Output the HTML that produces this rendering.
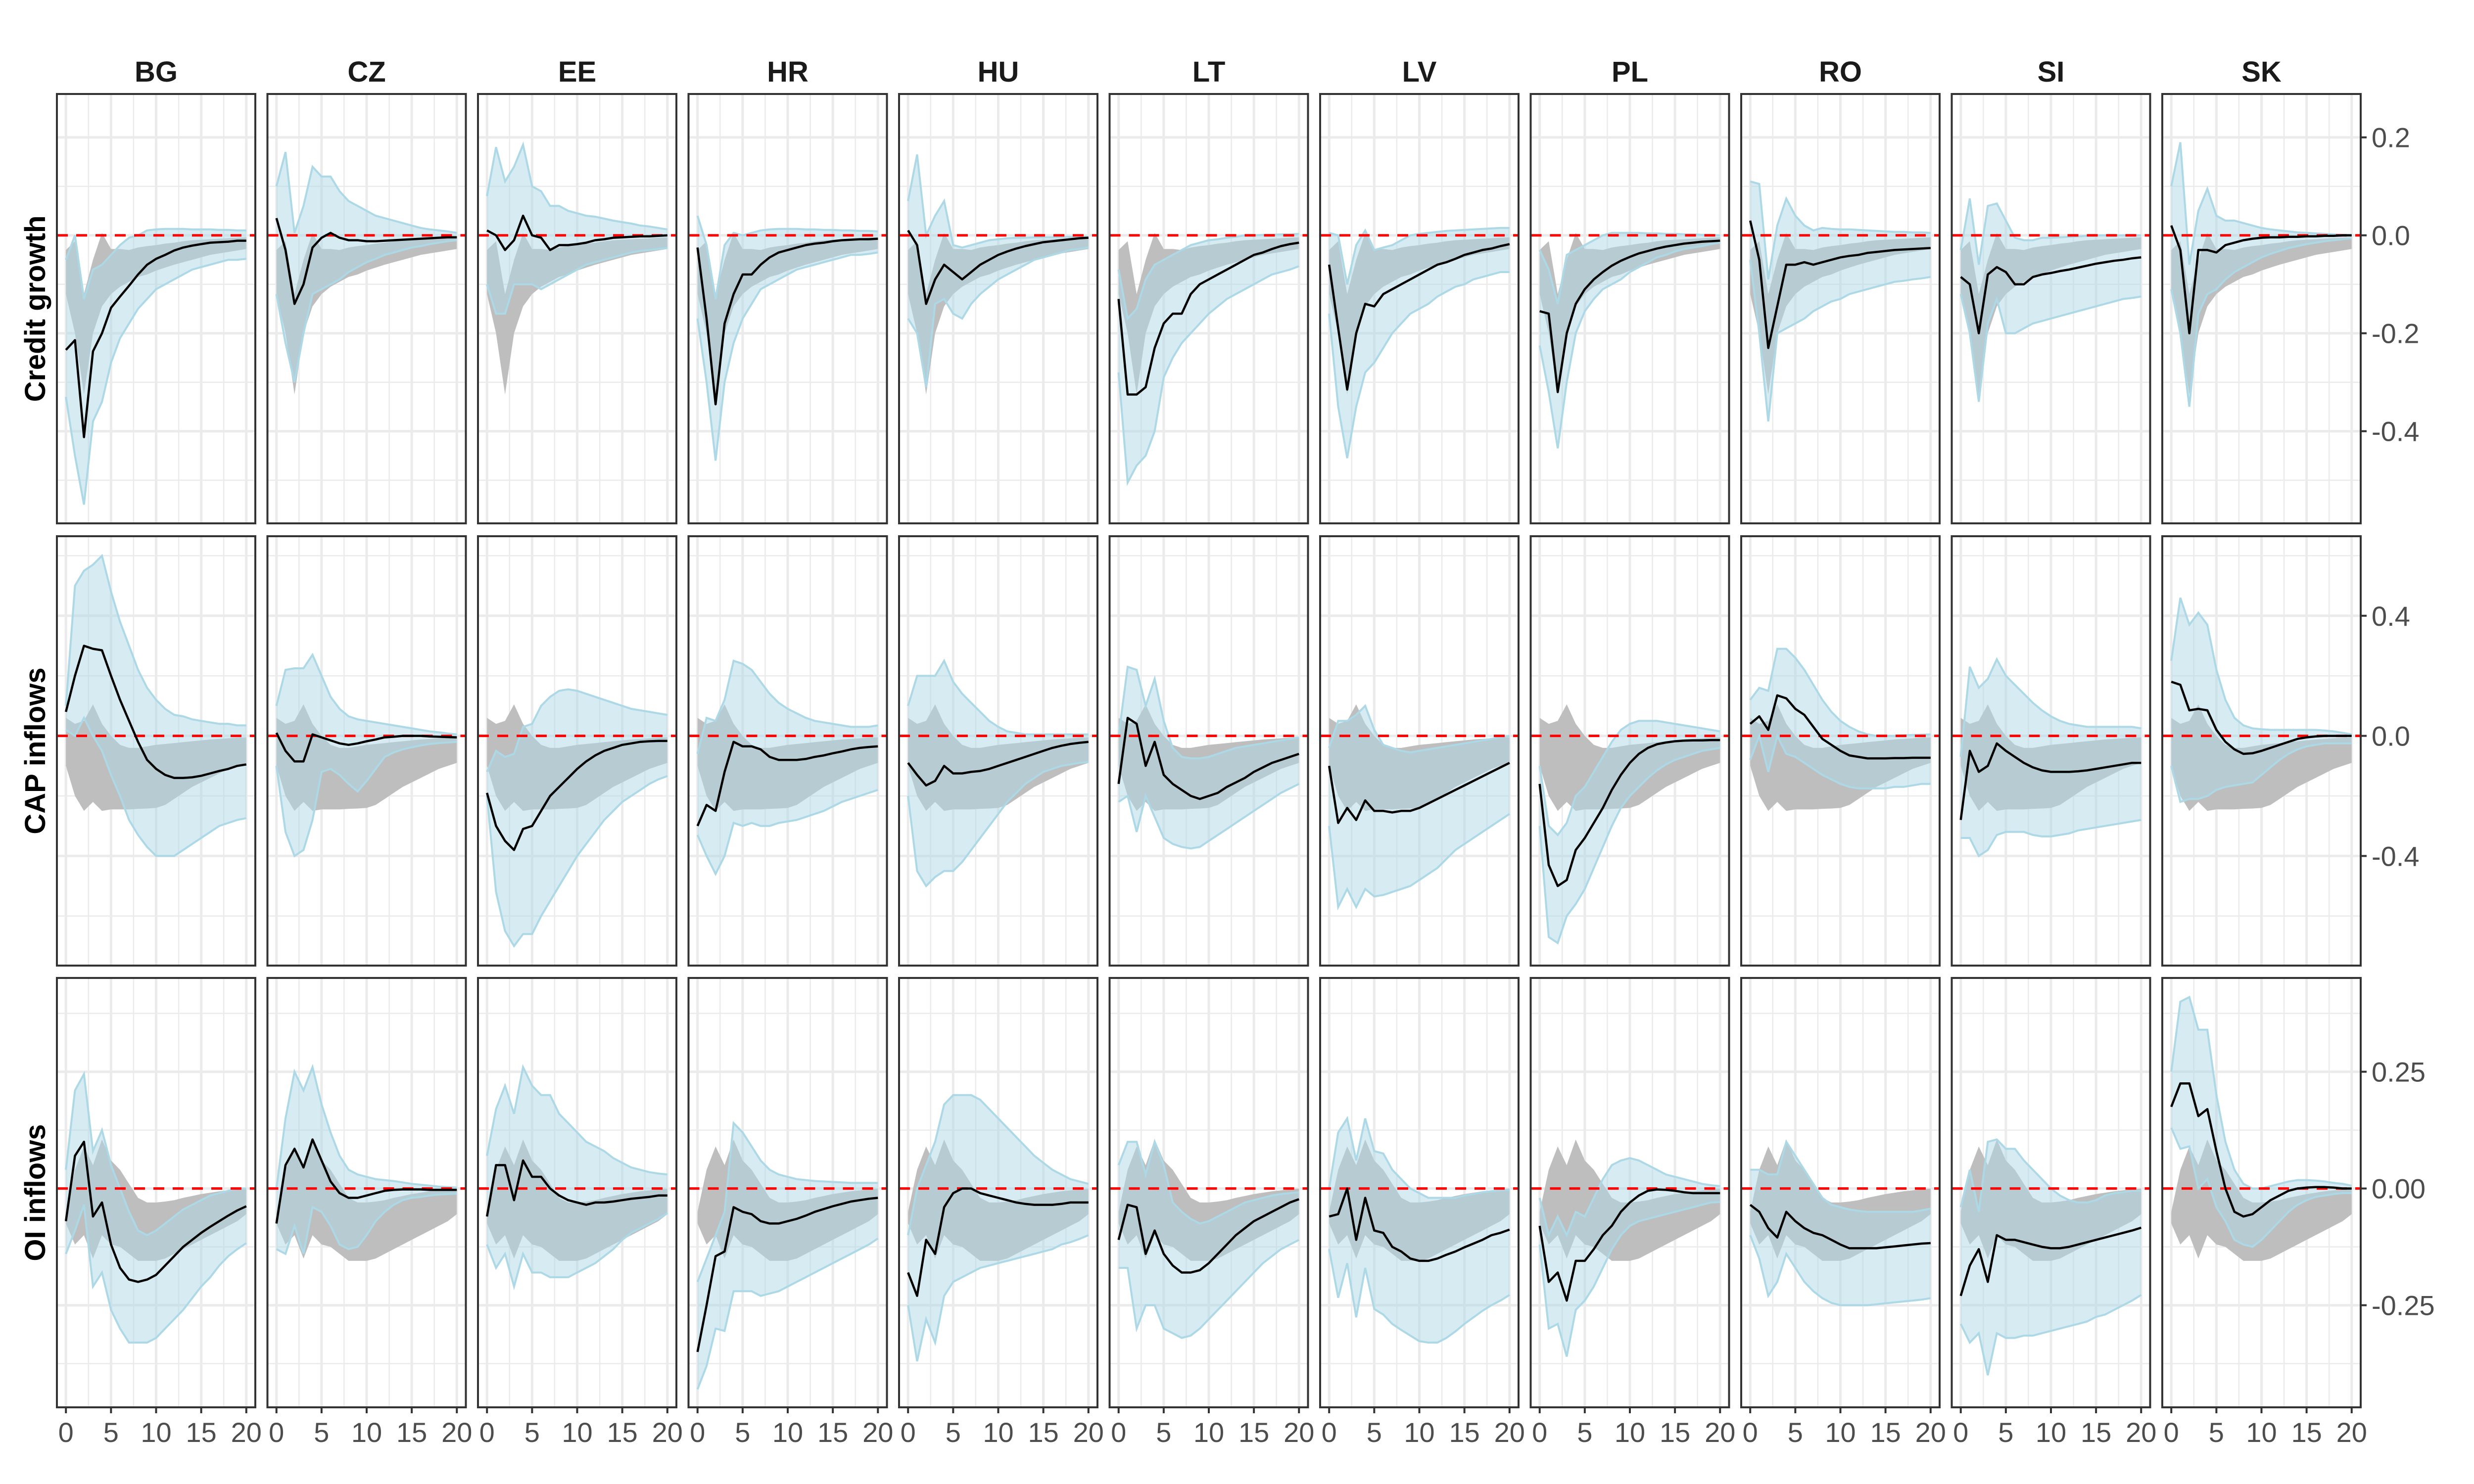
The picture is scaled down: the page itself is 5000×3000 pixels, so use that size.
<!DOCTYPE html>
<html><head><meta charset="utf-8">
<style>
html,body{margin:0;padding:0;background:#fff;}
svg{display:block;font-family:"Liberation Sans",Arial,sans-serif;}
</style></head>
<body>
<svg id="chart" width="5000" height="3000" viewBox="0 0 5000 3000" xmlns="http://www.w3.org/2000/svg">
<rect width="5000" height="3000" fill="#ffffff"/>
</svg>
<script>
// ---------------- data ----------------
const countries = ["BG","CZ","EE","HR","HU","LT","LV","PL","RO","SI","SK"];
const horizons = [0,1,2,3,4,5,6,7,8,9,10,11,12,13,14,15,16,17,18,19,20];
const rowTitles = ["Credit growth","CAP inflows","OI inflows"];
const xTicks = [0,5,10,15,20];
const yTicksCredit = [0.2,0.0,-0.2,-0.4];
const yTickLabelsCredit = ["0.2","0.0","-0.2","-0.4"];
const yMinorCredit = [0.1,-0.1,-0.3,-0.5];
const yTicksCap = [0.4,0.0,-0.4];
const yTickLabelsCap = ["0.4","0.0","-0.4"];
const yMinorCap = [0.6,0.2,-0.2,-0.6];
const yTicksOi = [0.25,0.0,-0.25];
const yTickLabelsOi = ["0.25","0.00","-0.25"];
const yMinorOi = [0.375,0.125,-0.125,-0.375];

// benchmark (grey) bands, one per row
const creditGreyLo = [-0.12,-0.2,-0.325,-0.2,-0.145,-0.12,-0.105,-0.095,-0.085,-0.08,-0.072,-0.066,-0.06,-0.055,-0.05,-0.045,-0.04,-0.037,-0.034,-0.031,-0.028];
const creditGreyHi = [-0.03,-0.012,-0.12,-0.05,0.005,-0.028,-0.028,-0.03,-0.025,-0.022,-0.02,-0.017,-0.015,-0.012,-0.01,-0.009,-0.008,-0.007,-0.006,-0.005,-0.004];
const capGreyLo = [-0.1,-0.2,-0.25,-0.22,-0.25,-0.245,-0.245,-0.245,-0.243,-0.242,-0.24,-0.23,-0.21,-0.19,-0.17,-0.155,-0.14,-0.125,-0.11,-0.1,-0.09];
const capGreyHi = [0.06,0.04,0.05,0.105,0.04,0.0,-0.03,-0.04,-0.04,-0.035,-0.03,-0.027,-0.024,-0.021,-0.018,-0.015,-0.012,-0.01,-0.008,-0.006,-0.005];
const oiGreyLo = [-0.075,-0.12,-0.1,-0.15,-0.1,-0.12,-0.125,-0.14,-0.155,-0.155,-0.155,-0.15,-0.14,-0.13,-0.12,-0.11,-0.1,-0.09,-0.08,-0.07,-0.055];
const oiGreyHi = [-0.05,0.04,0.09,0.05,0.105,0.06,0.04,0.01,-0.02,-0.03,-0.03,-0.028,-0.025,-0.02,-0.016,-0.012,-0.009,-0.006,-0.004,-0.002,0.0];

// Credit growth: median, upper, lower per country
const creditMed = [
[-0.234,-0.214,-0.412,-0.237,-0.2,-0.148,-0.125,-0.103,-0.08,-0.06,-0.048,-0.04,-0.031,-0.025,-0.021,-0.018,-0.015,-0.014,-0.013,-0.011,-0.011],
[0.035,-0.03,-0.14,-0.1,-0.025,-0.005,0.005,-0.005,-0.01,-0.01,-0.012,-0.012,-0.011,-0.01,-0.009,-0.008,-0.007,-0.006,-0.005,-0.004,-0.004],
[0.01,0.0,-0.03,-0.01,0.04,0.0,-0.005,-0.03,-0.02,-0.02,-0.018,-0.015,-0.01,-0.008,-0.005,-0.004,-0.003,-0.002,-0.002,-0.001,0.0],
[-0.025,-0.17,-0.345,-0.18,-0.12,-0.08,-0.08,-0.06,-0.045,-0.035,-0.03,-0.025,-0.02,-0.017,-0.015,-0.012,-0.01,-0.009,-0.008,-0.008,-0.007],
[0.01,-0.02,-0.14,-0.09,-0.06,-0.075,-0.09,-0.075,-0.06,-0.05,-0.04,-0.033,-0.027,-0.022,-0.018,-0.014,-0.012,-0.01,-0.008,-0.006,-0.005],
[-0.13,-0.325,-0.325,-0.31,-0.23,-0.18,-0.16,-0.16,-0.12,-0.1,-0.09,-0.08,-0.07,-0.06,-0.05,-0.04,-0.035,-0.028,-0.022,-0.018,-0.015],
[-0.06,-0.19,-0.315,-0.2,-0.14,-0.145,-0.12,-0.11,-0.1,-0.09,-0.08,-0.07,-0.06,-0.055,-0.048,-0.04,-0.035,-0.03,-0.027,-0.022,-0.018],
[-0.155,-0.16,-0.32,-0.2,-0.14,-0.11,-0.09,-0.075,-0.062,-0.052,-0.044,-0.037,-0.032,-0.027,-0.023,-0.02,-0.017,-0.015,-0.013,-0.012,-0.011],
[0.03,-0.05,-0.23,-0.145,-0.06,-0.06,-0.055,-0.06,-0.055,-0.05,-0.045,-0.042,-0.04,-0.036,-0.034,-0.032,-0.03,-0.029,-0.028,-0.027,-0.026],
[-0.085,-0.1,-0.2,-0.08,-0.065,-0.075,-0.1,-0.1,-0.085,-0.08,-0.077,-0.073,-0.07,-0.066,-0.062,-0.058,-0.055,-0.052,-0.05,-0.047,-0.045],
[0.02,-0.03,-0.2,-0.03,-0.03,-0.035,-0.02,-0.015,-0.01,-0.007,-0.005,-0.004,-0.004,-0.003,-0.003,-0.002,-0.002,-0.001,-0.001,0.0,0.0]];
const creditHi = [
[-0.05,0.0,-0.13,-0.07,-0.06,-0.04,-0.02,-0.005,0.0,0.01,0.012,0.013,0.013,0.013,0.012,0.012,0.012,0.011,0.011,0.01,0.01],
[0.1,0.17,0.005,0.06,0.14,0.12,0.12,0.09,0.07,0.06,0.05,0.04,0.035,0.03,0.025,0.02,0.015,0.012,0.01,0.008,0.005],
[0.08,0.18,0.11,0.14,0.185,0.1,0.09,0.06,0.06,0.05,0.045,0.04,0.038,0.034,0.03,0.027,0.024,0.02,0.018,0.015,0.012],
[0.04,-0.02,-0.13,-0.02,0.005,0.0,0.005,0.01,0.012,0.013,0.013,0.013,0.012,0.012,0.011,0.011,0.01,0.01,0.009,0.009,0.008],
[0.07,0.165,0.0,0.04,0.07,-0.02,-0.025,-0.02,-0.015,-0.01,-0.008,-0.006,-0.005,-0.005,-0.004,-0.004,-0.004,-0.003,-0.003,-0.003,-0.003],
[-0.07,-0.17,-0.15,-0.09,-0.06,-0.05,-0.04,-0.03,-0.02,-0.015,-0.01,-0.008,-0.005,-0.003,0.0,0.0,0.001,0.001,0.002,0.002,0.003],
[0.005,0.0,-0.1,-0.02,0.01,-0.03,-0.025,-0.02,-0.01,0.0,0.003,0.005,0.007,0.009,0.01,0.011,0.012,0.013,0.014,0.015,0.015],
[-0.03,-0.07,-0.14,-0.04,-0.03,-0.02,-0.01,0.0,0.005,0.005,0.005,0.005,0.004,0.004,0.003,0.003,0.002,0.002,0.001,0.001,0.0],
[0.11,0.105,-0.09,0.02,0.075,0.04,0.02,0.01,0.015,0.013,0.012,0.012,0.011,0.01,0.009,0.008,0.007,0.007,0.006,0.006,0.005],
[-0.03,0.075,-0.06,0.06,0.065,0.03,-0.005,-0.01,-0.01,-0.005,-0.005,-0.004,-0.003,-0.002,-0.001,0.0,0.0,0.0,0.0,0.0,0.0],
[0.1,0.19,-0.06,0.05,0.095,0.04,0.03,0.03,0.025,0.02,0.015,0.012,0.01,0.008,0.006,0.005,0.004,0.003,0.002,0.001,0.001]];
const creditLo = [
[-0.33,-0.45,-0.55,-0.38,-0.34,-0.26,-0.21,-0.18,-0.15,-0.13,-0.11,-0.1,-0.09,-0.08,-0.07,-0.065,-0.06,-0.055,-0.05,-0.05,-0.048],
[-0.12,-0.22,-0.3,-0.2,-0.12,-0.11,-0.1,-0.09,-0.075,-0.065,-0.055,-0.048,-0.04,-0.035,-0.03,-0.025,-0.022,-0.018,-0.015,-0.012,-0.01],
[-0.1,-0.16,-0.16,-0.1,-0.1,-0.1,-0.11,-0.1,-0.09,-0.08,-0.07,-0.06,-0.055,-0.05,-0.045,-0.04,-0.035,-0.032,-0.03,-0.028,-0.026],
[-0.17,-0.3,-0.46,-0.3,-0.22,-0.17,-0.14,-0.11,-0.1,-0.09,-0.08,-0.07,-0.065,-0.06,-0.055,-0.05,-0.045,-0.04,-0.04,-0.038,-0.035],
[-0.17,-0.2,-0.31,-0.14,-0.13,-0.16,-0.17,-0.14,-0.12,-0.105,-0.09,-0.08,-0.07,-0.06,-0.05,-0.045,-0.04,-0.035,-0.03,-0.028,-0.025],
[-0.28,-0.505,-0.47,-0.45,-0.4,-0.29,-0.25,-0.22,-0.2,-0.18,-0.16,-0.145,-0.13,-0.12,-0.11,-0.1,-0.09,-0.08,-0.075,-0.07,-0.063],
[-0.16,-0.35,-0.455,-0.35,-0.28,-0.26,-0.23,-0.2,-0.18,-0.16,-0.15,-0.14,-0.125,-0.115,-0.105,-0.1,-0.09,-0.085,-0.08,-0.075,-0.075],
[-0.225,-0.32,-0.435,-0.3,-0.2,-0.155,-0.13,-0.11,-0.1,-0.09,-0.075,-0.065,-0.055,-0.045,-0.04,-0.033,-0.028,-0.025,-0.022,-0.018,-0.015],
[-0.05,-0.2,-0.38,-0.2,-0.19,-0.18,-0.17,-0.155,-0.145,-0.135,-0.13,-0.12,-0.115,-0.11,-0.105,-0.1,-0.095,-0.093,-0.09,-0.088,-0.085],
[-0.12,-0.2,-0.34,-0.18,-0.13,-0.2,-0.2,-0.19,-0.18,-0.175,-0.17,-0.165,-0.16,-0.155,-0.15,-0.145,-0.14,-0.135,-0.13,-0.128,-0.125],
[-0.11,-0.2,-0.35,-0.16,-0.12,-0.11,-0.09,-0.075,-0.065,-0.055,-0.045,-0.038,-0.032,-0.026,-0.022,-0.018,-0.015,-0.012,-0.01,-0.008,-0.006]];

// CAP inflows
const capMed = [
[0.08,0.2,0.3,0.29,0.285,0.2,0.12,0.05,-0.02,-0.08,-0.11,-0.13,-0.14,-0.14,-0.138,-0.133,-0.125,-0.117,-0.11,-0.1,-0.095],
[0.01,-0.05,-0.085,-0.085,0.005,-0.005,-0.015,-0.025,-0.03,-0.025,-0.018,-0.012,-0.005,-0.003,0.0,0.0,0.0,-0.002,-0.003,-0.004,-0.005],
[-0.19,-0.3,-0.35,-0.38,-0.31,-0.3,-0.25,-0.2,-0.17,-0.14,-0.11,-0.085,-0.065,-0.05,-0.04,-0.03,-0.025,-0.02,-0.018,-0.017,-0.017],
[-0.3,-0.23,-0.25,-0.12,-0.02,-0.035,-0.035,-0.045,-0.07,-0.08,-0.08,-0.08,-0.077,-0.07,-0.065,-0.058,-0.052,-0.045,-0.04,-0.037,-0.035],
[-0.09,-0.13,-0.165,-0.15,-0.1,-0.125,-0.125,-0.12,-0.117,-0.11,-0.1,-0.09,-0.08,-0.07,-0.06,-0.05,-0.04,-0.033,-0.027,-0.023,-0.02],
[-0.16,0.06,0.04,-0.1,-0.02,-0.13,-0.16,-0.18,-0.2,-0.21,-0.2,-0.19,-0.17,-0.155,-0.14,-0.12,-0.105,-0.09,-0.08,-0.07,-0.06],
[-0.1,-0.29,-0.24,-0.28,-0.215,-0.25,-0.25,-0.255,-0.25,-0.25,-0.24,-0.225,-0.21,-0.195,-0.18,-0.165,-0.15,-0.135,-0.12,-0.105,-0.09],
[-0.16,-0.43,-0.5,-0.48,-0.38,-0.34,-0.29,-0.24,-0.18,-0.13,-0.09,-0.06,-0.04,-0.028,-0.022,-0.018,-0.016,-0.015,-0.015,-0.014,-0.014],
[0.04,0.065,0.02,0.135,0.125,0.09,0.07,0.03,-0.01,-0.03,-0.05,-0.065,-0.07,-0.075,-0.075,-0.075,-0.074,-0.074,-0.073,-0.073,-0.073],
[-0.28,-0.05,-0.12,-0.1,-0.025,-0.05,-0.07,-0.09,-0.105,-0.115,-0.12,-0.12,-0.12,-0.118,-0.115,-0.11,-0.105,-0.1,-0.095,-0.09,-0.09],
[0.18,0.17,0.085,0.09,0.085,0.02,-0.02,-0.045,-0.06,-0.058,-0.05,-0.04,-0.03,-0.02,-0.01,-0.005,-0.002,0.0,0.0,0.0,0.0]];
const capHi = [
[0.1,0.5,0.55,0.57,0.6,0.48,0.38,0.3,0.22,0.16,0.12,0.09,0.07,0.065,0.055,0.05,0.045,0.04,0.04,0.035,0.035],
[0.1,0.22,0.225,0.225,0.27,0.2,0.13,0.09,0.065,0.055,0.05,0.045,0.04,0.035,0.03,0.025,0.02,0.015,0.012,0.008,0.005],
[-0.12,-0.05,-0.07,-0.06,0.03,0.04,0.1,0.13,0.15,0.155,0.15,0.14,0.13,0.12,0.11,0.1,0.09,0.085,0.08,0.075,0.07],
[-0.06,0.06,0.05,0.12,0.25,0.24,0.22,0.18,0.14,0.11,0.09,0.075,0.06,0.05,0.045,0.04,0.035,0.03,0.03,0.03,0.035],
[0.1,0.2,0.2,0.2,0.25,0.18,0.14,0.11,0.08,0.05,0.03,0.015,0.01,0.005,0.005,0.005,0.005,0.005,0.005,0.005,0.005],
[0.0,0.23,0.22,0.1,0.19,0.05,-0.04,-0.07,-0.075,-0.075,-0.07,-0.06,-0.05,-0.04,-0.035,-0.03,-0.025,-0.02,-0.015,-0.01,-0.005],
[-0.04,0.05,0.05,0.07,0.1,0.02,-0.03,-0.04,-0.05,-0.055,-0.05,-0.045,-0.04,-0.035,-0.03,-0.025,-0.02,-0.015,-0.01,-0.005,0.0],
[-0.1,-0.3,-0.33,-0.29,-0.2,-0.17,-0.12,-0.07,-0.02,0.02,0.04,0.05,0.05,0.05,0.045,0.04,0.035,0.03,0.025,0.02,0.015],
[0.12,0.16,0.15,0.29,0.29,0.26,0.22,0.17,0.12,0.08,0.05,0.03,0.015,0.005,0.0,0.0,0.0,0.002,0.003,0.004,0.005],
[-0.07,0.23,0.16,0.19,0.255,0.2,0.17,0.14,0.11,0.085,0.065,0.05,0.04,0.035,0.03,0.03,0.03,0.03,0.03,0.03,0.025],
[0.25,0.46,0.37,0.41,0.37,0.22,0.12,0.06,0.035,0.025,0.022,0.02,0.02,0.02,0.02,0.02,0.02,0.018,0.015,0.01,0.005]];
const capLo = [
[0.02,0.0,0.06,0.0,-0.05,-0.13,-0.2,-0.28,-0.33,-0.37,-0.4,-0.4,-0.4,-0.38,-0.36,-0.34,-0.32,-0.3,-0.29,-0.28,-0.274],
[-0.1,-0.32,-0.4,-0.38,-0.28,-0.12,-0.11,-0.13,-0.16,-0.185,-0.15,-0.11,-0.07,-0.055,-0.045,-0.038,-0.032,-0.027,-0.024,-0.022,-0.02],
[-0.2,-0.52,-0.65,-0.7,-0.66,-0.66,-0.6,-0.55,-0.5,-0.45,-0.4,-0.36,-0.32,-0.28,-0.25,-0.22,-0.2,-0.18,-0.16,-0.145,-0.134],
[-0.33,-0.4,-0.46,-0.4,-0.29,-0.3,-0.29,-0.3,-0.3,-0.29,-0.285,-0.28,-0.27,-0.26,-0.25,-0.235,-0.22,-0.21,-0.2,-0.19,-0.18],
[-0.2,-0.45,-0.5,-0.47,-0.45,-0.45,-0.42,-0.38,-0.34,-0.3,-0.26,-0.22,-0.19,-0.16,-0.14,-0.12,-0.11,-0.1,-0.095,-0.09,-0.087],
[-0.22,-0.2,-0.32,-0.2,-0.27,-0.34,-0.36,-0.37,-0.375,-0.37,-0.35,-0.33,-0.31,-0.29,-0.27,-0.25,-0.23,-0.21,-0.19,-0.175,-0.16],
[-0.3,-0.57,-0.51,-0.57,-0.51,-0.535,-0.53,-0.52,-0.51,-0.5,-0.48,-0.46,-0.44,-0.41,-0.38,-0.36,-0.34,-0.32,-0.3,-0.28,-0.26],
[-0.3,-0.67,-0.69,-0.6,-0.56,-0.51,-0.44,-0.37,-0.3,-0.24,-0.2,-0.17,-0.14,-0.115,-0.095,-0.08,-0.07,-0.06,-0.05,-0.045,-0.04],
[-0.08,0.0,-0.12,0.0,-0.06,-0.07,-0.09,-0.11,-0.13,-0.145,-0.16,-0.17,-0.175,-0.175,-0.175,-0.175,-0.17,-0.17,-0.165,-0.16,-0.16],
[-0.34,-0.34,-0.4,-0.38,-0.33,-0.32,-0.32,-0.32,-0.33,-0.335,-0.335,-0.33,-0.325,-0.315,-0.31,-0.305,-0.3,-0.295,-0.29,-0.285,-0.28],
[-0.1,-0.22,-0.21,-0.21,-0.2,-0.18,-0.17,-0.165,-0.16,-0.155,-0.13,-0.105,-0.08,-0.06,-0.045,-0.035,-0.03,-0.025,-0.025,-0.025,-0.025]];

// OI inflows
const oiMed = [
[-0.07,0.07,0.1,-0.06,-0.03,-0.12,-0.17,-0.195,-0.2,-0.195,-0.185,-0.165,-0.145,-0.125,-0.11,-0.095,-0.082,-0.07,-0.058,-0.047,-0.038],
[-0.075,0.05,0.085,0.045,0.105,0.06,0.015,-0.01,-0.02,-0.02,-0.015,-0.01,-0.005,-0.003,-0.002,-0.002,-0.002,-0.003,-0.003,-0.003,-0.003],
[-0.06,0.05,0.05,-0.025,0.06,0.025,0.025,0.0,-0.015,-0.025,-0.03,-0.035,-0.03,-0.03,-0.028,-0.025,-0.022,-0.02,-0.018,-0.015,-0.015],
[-0.35,-0.25,-0.145,-0.135,-0.04,-0.05,-0.055,-0.07,-0.075,-0.075,-0.07,-0.065,-0.058,-0.05,-0.044,-0.038,-0.033,-0.028,-0.025,-0.022,-0.02],
[-0.18,-0.23,-0.11,-0.14,-0.04,-0.01,0.0,0.0,-0.01,-0.015,-0.02,-0.025,-0.03,-0.033,-0.035,-0.035,-0.035,-0.033,-0.03,-0.03,-0.03],
[-0.11,-0.035,-0.04,-0.14,-0.09,-0.14,-0.165,-0.18,-0.18,-0.175,-0.16,-0.14,-0.12,-0.1,-0.085,-0.07,-0.06,-0.05,-0.04,-0.03,-0.023],
[-0.06,-0.055,0.0,-0.11,-0.02,-0.09,-0.095,-0.125,-0.135,-0.15,-0.155,-0.155,-0.15,-0.142,-0.135,-0.126,-0.118,-0.11,-0.1,-0.095,-0.088],
[-0.08,-0.2,-0.18,-0.24,-0.155,-0.155,-0.13,-0.1,-0.08,-0.05,-0.03,-0.015,-0.005,-0.002,-0.003,-0.005,-0.008,-0.01,-0.01,-0.01,-0.01],
[-0.035,-0.05,-0.085,-0.105,-0.05,-0.07,-0.085,-0.095,-0.1,-0.11,-0.12,-0.128,-0.128,-0.128,-0.128,-0.126,-0.124,-0.122,-0.12,-0.118,-0.117],
[-0.23,-0.165,-0.13,-0.2,-0.1,-0.11,-0.11,-0.115,-0.12,-0.125,-0.128,-0.128,-0.125,-0.12,-0.115,-0.11,-0.105,-0.1,-0.095,-0.09,-0.084],
[0.175,0.225,0.225,0.155,0.17,0.08,0.0,-0.05,-0.06,-0.055,-0.04,-0.025,-0.015,-0.005,0.0,0.002,0.003,0.003,0.002,0.0,0.0]];
const oiHi = [
[0.04,0.21,0.245,0.08,0.125,0.05,0.0,-0.05,-0.09,-0.1,-0.09,-0.075,-0.06,-0.045,-0.035,-0.025,-0.015,-0.01,-0.005,0.0,0.0],
[0.0,0.15,0.25,0.21,0.26,0.18,0.12,0.07,0.04,0.03,0.025,0.02,0.018,0.016,0.013,0.01,0.008,0.006,0.004,0.003,0.002],
[0.07,0.17,0.22,0.16,0.26,0.22,0.2,0.2,0.16,0.14,0.12,0.1,0.09,0.08,0.065,0.055,0.045,0.04,0.035,0.032,0.03],
[-0.2,-0.15,-0.1,-0.05,0.14,0.12,0.09,0.06,0.04,0.03,0.025,0.02,0.018,0.016,0.015,0.014,0.013,0.012,0.012,0.012,0.012],
[-0.1,0.0,0.05,0.1,0.18,0.2,0.2,0.2,0.19,0.17,0.15,0.13,0.11,0.09,0.07,0.055,0.04,0.03,0.02,0.015,0.01],
[0.05,0.1,0.1,0.03,0.1,0.05,-0.03,-0.05,-0.065,-0.075,-0.07,-0.06,-0.05,-0.04,-0.03,-0.025,-0.02,-0.015,-0.012,-0.01,-0.008],
[0.0,0.12,0.15,0.06,0.15,0.08,0.075,0.04,0.02,0.0,-0.01,-0.02,-0.02,-0.02,-0.02,-0.015,-0.012,-0.008,-0.006,-0.004,-0.003],
[-0.02,-0.1,-0.06,-0.1,-0.05,-0.06,-0.02,0.02,0.05,0.06,0.065,0.06,0.05,0.04,0.03,0.025,0.02,0.015,0.01,0.007,0.005],
[0.04,0.04,0.03,0.03,0.1,0.07,0.04,0.01,-0.02,-0.035,-0.04,-0.045,-0.048,-0.05,-0.05,-0.05,-0.05,-0.05,-0.05,-0.047,-0.043],
[-0.04,0.04,-0.05,0.1,0.105,0.085,0.085,0.06,0.04,0.02,0.0,-0.015,-0.025,-0.03,-0.03,-0.025,-0.015,-0.01,-0.008,-0.005,-0.005],
[0.25,0.4,0.41,0.34,0.34,0.2,0.1,0.04,0.01,0.0,0.0,0.005,0.01,0.015,0.018,0.018,0.017,0.015,0.012,0.01,0.006]];
const oiLo = [
[-0.14,-0.09,-0.035,-0.21,-0.18,-0.26,-0.3,-0.33,-0.33,-0.33,-0.32,-0.3,-0.28,-0.26,-0.235,-0.21,-0.19,-0.165,-0.145,-0.13,-0.117],
[-0.13,-0.14,-0.08,-0.14,-0.04,-0.05,-0.08,-0.12,-0.13,-0.125,-0.1,-0.07,-0.05,-0.035,-0.025,-0.02,-0.018,-0.015,-0.013,-0.012,-0.011],
[-0.12,-0.17,-0.14,-0.21,-0.14,-0.18,-0.18,-0.19,-0.19,-0.19,-0.18,-0.17,-0.16,-0.145,-0.13,-0.11,-0.095,-0.085,-0.075,-0.065,-0.053],
[-0.43,-0.38,-0.3,-0.305,-0.22,-0.22,-0.22,-0.23,-0.225,-0.22,-0.21,-0.2,-0.19,-0.18,-0.17,-0.16,-0.15,-0.14,-0.13,-0.12,-0.107],
[-0.25,-0.37,-0.28,-0.33,-0.23,-0.2,-0.19,-0.18,-0.17,-0.165,-0.16,-0.155,-0.15,-0.145,-0.14,-0.135,-0.13,-0.12,-0.115,-0.108,-0.1],
[-0.17,-0.17,-0.3,-0.25,-0.25,-0.3,-0.31,-0.32,-0.315,-0.3,-0.28,-0.26,-0.24,-0.22,-0.2,-0.18,-0.16,-0.145,-0.13,-0.12,-0.11],
[-0.13,-0.234,-0.16,-0.276,-0.17,-0.258,-0.27,-0.29,-0.303,-0.315,-0.327,-0.33,-0.33,-0.32,-0.306,-0.29,-0.276,-0.262,-0.25,-0.24,-0.228],
[-0.12,-0.3,-0.29,-0.36,-0.26,-0.24,-0.21,-0.17,-0.13,-0.1,-0.08,-0.07,-0.065,-0.06,-0.055,-0.05,-0.045,-0.04,-0.035,-0.03,-0.029],
[-0.1,-0.15,-0.23,-0.2,-0.14,-0.17,-0.2,-0.22,-0.235,-0.245,-0.25,-0.25,-0.25,-0.25,-0.248,-0.246,-0.244,-0.242,-0.24,-0.238,-0.235],
[-0.29,-0.33,-0.31,-0.4,-0.31,-0.32,-0.32,-0.315,-0.315,-0.31,-0.305,-0.3,-0.295,-0.29,-0.285,-0.275,-0.27,-0.26,-0.25,-0.24,-0.228],
[0.13,0.085,0.09,0.0,0.02,-0.04,-0.07,-0.11,-0.12,-0.125,-0.11,-0.09,-0.07,-0.05,-0.035,-0.025,-0.018,-0.015,-0.012,-0.01,-0.01]];

// ---------------- layout ----------------
const NS = "http://www.w3.org/2000/svg";
const svg = document.getElementById("chart");
const panelLeft0 = 115, panelPitch = 425.5, panelW = 401, panelH = 868;
const rowTops = [190, 1084, 1977];
const rowZero = [475.7, 1487.6, 2402.6];
const rowScale = [990, 607, 944];
const xMin = -1, xMax = 21;

const rows = [
  {med: creditMed, hi: creditHi, lo: creditLo, gLo: creditGreyLo, gHi: creditGreyHi, ticks: yTicksCredit, labels: yTickLabelsCredit, minor: yMinorCredit},
  {med: capMed, hi: capHi, lo: capLo, gLo: capGreyLo, gHi: capGreyHi, ticks: yTicksCap, labels: yTickLabelsCap, minor: yMinorCap},
  {med: oiMed, hi: oiHi, lo: oiLo, gLo: oiGreyLo, gHi: oiGreyHi, ticks: yTicksOi, labels: yTickLabelsOi, minor: yMinorOi}
];

function mk(tag, attrs, parent) {
  const e = document.createElementNS(NS, tag);
  for (const k in attrs) e.setAttribute(k, attrs[k]);
  (parent || svg).appendChild(e);
  return e;
}
function xScale(c, t) { const L = panelLeft0 + panelPitch * c; return L + (t - xMin) / (xMax - xMin) * panelW; }
function yScale(r, v) { return rowZero[r] - v * rowScale[r]; }
function linePts(r, c, arr) { return horizons.map((t, i) => xScale(c, t).toFixed(1) + "," + yScale(r, arr[i]).toFixed(1)); }
function bandPath(r, c, lo, hi) {
  const up = linePts(r, c, hi);
  const dn = linePts(r, c, lo).reverse();
  return "M" + up.join("L") + "L" + dn.join("L") + "Z";
}

// strip labels
countries.forEach((name, c) => {
  const t = mk("text", {x: panelLeft0 + panelPitch * c + panelW / 2, y: 165, "text-anchor": "middle", "font-size": 58, "font-weight": "bold", fill: "#1a1a1a"});
  
  
  t.textContent = name;
});

// row titles
rowTitles.forEach((title, r) => {
  const cy = rowTops[r] + panelH / 2;
  const t = mk("text", {x: 0, y: 0, transform: "translate(91," + cy + ") rotate(-90)", "text-anchor": "middle", "font-size": 58, "font-weight": "bold", fill: "#000"});
  
  
  t.textContent = title;
});

rows.forEach((row, r) => {
  const top = rowTops[r];
  countries.forEach((name, c) => {
    const L = panelLeft0 + panelPitch * c;
    const g = mk("g", {});
    
    
    const clipId = "clip" + r + "_" + c;
    const cp = mk("clipPath", {id: clipId}, g);
    mk("rect", {x: L, y: top, width: panelW, height: panelH}, cp);
    const inner = mk("g", {"clip-path": "url(#" + clipId + ")"}, g);
    // minor grid
    row.minor.forEach(v => { mk("line", {x1: L, x2: L + panelW, y1: yScale(r, v), y2: yScale(r, v), stroke: "#ebebeb", "stroke-width": 2.5}, inner); });
    [2.5, 7.5, 12.5, 17.5].forEach(t => { mk("line", {x1: xScale(c, t), x2: xScale(c, t), y1: top, y2: top + panelH, stroke: "#ebebeb", "stroke-width": 2.5}, inner); });
    // major grid
    row.ticks.forEach(v => { mk("line", {x1: L, x2: L + panelW, y1: yScale(r, v), y2: yScale(r, v), stroke: "#ebebeb", "stroke-width": 5}, inner); });
    xTicks.forEach(t => { mk("line", {x1: xScale(c, t), x2: xScale(c, t), y1: top, y2: top + panelH, stroke: "#ebebeb", "stroke-width": 5}, inner); });
    // grey band
    const gb = mk("path", {d: bandPath(r, c, row.gLo, row.gHi), fill: "#bebebe"}, inner);
    
    
    // blue band
    const bb = mk("path", {d: bandPath(r, c, row.lo[c], row.hi[c]), fill: "#add8e6", "fill-opacity": 0.5}, inner);
    
    
    const bu = mk("polyline", {points: linePts(r, c, row.hi[c]).join(" "), fill: "none", stroke: "#add8e6", "stroke-width": 4}, inner);
    
    
    const bl = mk("polyline", {points: linePts(r, c, row.lo[c]).join(" "), fill: "none", stroke: "#add8e6", "stroke-width": 4}, inner);
    
    
    // zero line
    const zl = mk("line", {x1: L, x2: L + panelW, y1: yScale(r, 0), y2: yScale(r, 0), stroke: "#ff0000", "stroke-width": 5, "stroke-dasharray": "22,17"}, inner);
    
    
    // median
    const ml = mk("polyline", {points: linePts(r, c, row.med[c]).join(" "), fill: "none", stroke: "#000", "stroke-width": 4.5, "stroke-linejoin": "round"}, inner);
    
    
    // border
    mk("rect", {x: L, y: top, width: panelW, height: panelH, fill: "none", stroke: "#333333", "stroke-width": 4}, g);
  });
  // right axis
  const R = panelLeft0 + panelPitch * 10 + panelW;
  const ax = mk("g", {});
  
  
  row.ticks.forEach((v, i) => {
    const y = yScale(r, v);
    mk("line", {x1: R, x2: R + 12, y1: y, y2: y, stroke: "#333", "stroke-width": 4}, ax);
    const t = mk("text", {x: R + 22, y: y + 20, "font-size": 56, fill: "#4d4d4d"}, ax);
    t.textContent = row.labels[i];
  });
});

// x axis ticks bottom
countries.forEach((name, c) => {
  const ax = mk("g", {});
  
  
  const yb = rowTops[2] + panelH;
  xTicks.forEach(t => {
    const x = xScale(c, t);
    mk("line", {x1: x, x2: x, y1: yb, y2: yb + 12, stroke: "#333", "stroke-width": 4}, ax);
    const tx = mk("text", {x: x, y: yb + 70, "text-anchor": "middle", "font-size": 56, fill: "#4d4d4d"}, ax);
    tx.textContent = String(t);
  });
});
</script>
</body></html>
